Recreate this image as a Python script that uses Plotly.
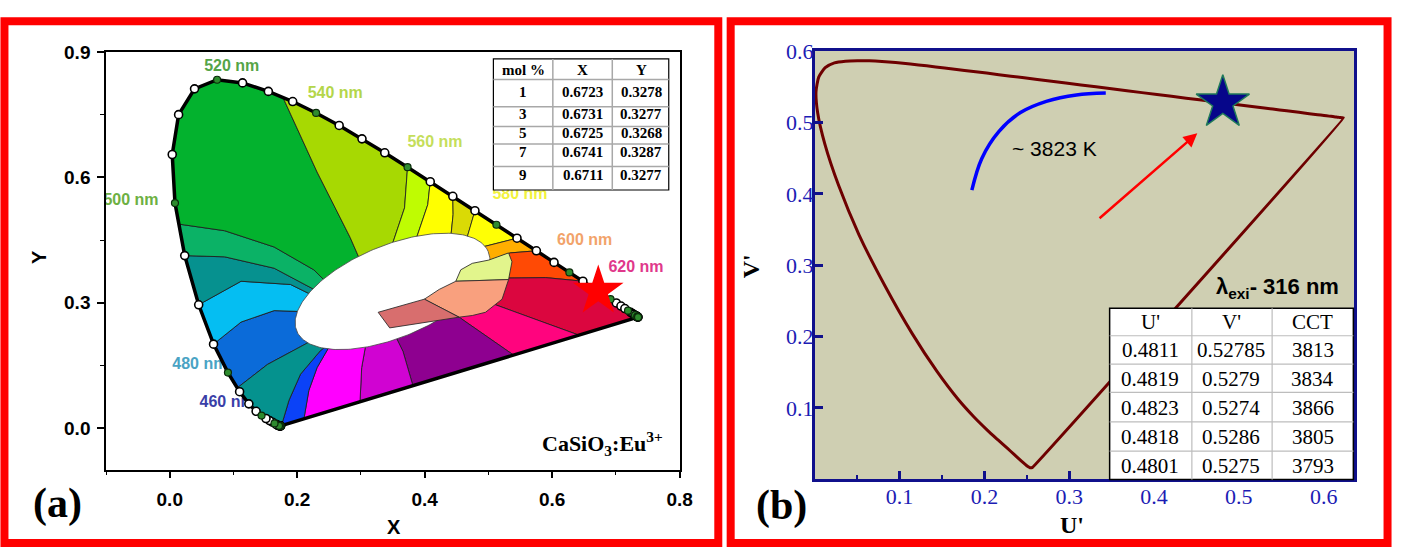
import numpy as np
import plotly.graph_objects as go

W, H = 1405, 547

# ---------------- data ----------------
wavelengths = list(range(380, 705, 5))
locus_x = [0.1741, 0.1740, 0.1738, 0.1736, 0.1733, 0.1730, 0.1726, 0.1721, 0.1714, 0.1703,
           0.1689, 0.1669, 0.1644, 0.1611, 0.1566, 0.1510, 0.1440, 0.1355, 0.1241, 0.1096,
           0.0913, 0.0687, 0.0454, 0.0235, 0.0082, 0.0039, 0.0139, 0.0389, 0.0743, 0.1142,
           0.1547, 0.1929, 0.2296, 0.2658, 0.3016, 0.3373, 0.3731, 0.4087, 0.4441, 0.4788,
           0.5125, 0.5448, 0.5752, 0.6029, 0.6270, 0.6482, 0.6658, 0.6801, 0.6915, 0.7006,
           0.7079, 0.7140, 0.7190, 0.7230, 0.7260, 0.7283, 0.7300, 0.7311, 0.7320, 0.7327,
           0.7334, 0.7340, 0.7344, 0.7346, 0.7347]
locus_y = [0.0050, 0.0050, 0.0049, 0.0049, 0.0048, 0.0048, 0.0048, 0.0048, 0.0051, 0.0058,
           0.0069, 0.0086, 0.0109, 0.0138, 0.0177, 0.0227, 0.0297, 0.0399, 0.0578, 0.0868,
           0.1327, 0.2007, 0.2950, 0.4127, 0.5384, 0.6548, 0.7502, 0.8120, 0.8338, 0.8262,
           0.8059, 0.7816, 0.7543, 0.7243, 0.6923, 0.6589, 0.6245, 0.5896, 0.5547, 0.5202,
           0.4866, 0.4544, 0.4242, 0.3965, 0.3725, 0.3514, 0.3340, 0.3197, 0.3083, 0.2993,
           0.2920, 0.2859, 0.2809, 0.2770, 0.2740, 0.2717, 0.2700, 0.2689, 0.2680, 0.2673,
           0.2666, 0.2660, 0.2656, 0.2654, 0.2653]

label_wavelengths = [460, 480, 500, 520, 540, 560, 580, 600, 620]
label_colors = ["#3A3FA8", "#4AA3C4", "#6DB043", "#55A447", "#B4D64A",
                "#C5DE5B", "#F2F23C", "#F2A36A", "#E0388B"]

mol_percent = [1, 3, 5, 7, 9]
cie_x = [0.6723, 0.6731, 0.6725, 0.6741, 0.6711]
cie_y = [0.3278, 0.3277, 0.3268, 0.3287, 0.3277]

u_prime = [0.4811, 0.4819, 0.4823, 0.4818, 0.4801]
v_prime = [0.52785, 0.5279, 0.5274, 0.5286, 0.5275]
cct_values = [3813, 3834, 3866, 3805, 3793]
cct_mean = 3823

planck_u = [0.1852, 0.1968, 0.2172, 0.2425, 0.2730, 0.3085, 0.3431]
planck_v = [0.4053, 0.4494, 0.4876, 0.5140, 0.5297, 0.5388, 0.5413]

# colour-region boundaries of the chromaticity chart: (edge kind, wavelength / purple-line x, inner path)
region_boundaries = [
    ("wl", 476, [(0.1534, 0.1522), (0.2105, 0.1990)]),
    ("wl", 485, [(0.1119, 0.2536), (0.1638, 0.2810), (0.2105, 0.2787)]),
    ("wl", 490, [(0.1119, 0.3513), (0.1896, 0.3435), (0.2260, 0.3162)]),
    ("wl", 495, [(0.0861, 0.4098), (0.1638, 0.3825), (0.2311, 0.3279)]),
    ("wl", 498, [(0.0861, 0.4723), (0.1638, 0.4333), (0.2260, 0.3787), (0.2518, 0.3396)]),
    ("wl", 533, [(0.2311, 0.6129), (0.2829, 0.4567), (0.3020, 0.3900)]),
    ("wl", 560, [(0.3684, 0.5270), (0.3477, 0.4330)]),
    ("wl", 565, [(0.4048, 0.5347), (0.3866, 0.4527)]),
    ("wl", 570, [(0.4446, 0.5113), (0.4410, 0.4580)]),
    ("wl", 575, [(0.4721, 0.4840), (0.4654, 0.4504)]),
    ("wl", 585, [(0.4903, 0.4333)]),
    ("wl", 590, [(0.5343, 0.4192)]),
    ("wl", 605, [(0.5900, 0.3600), (0.5317, 0.3590)]),
    ("px", 0.6420, [(0.5700, 0.2620), (0.5009, 0.3007)]),
    ("px", 0.5394, [(0.4539, 0.2653)]),
    ("px", 0.3815, [(0.3659, 0.1834), (0.3477, 0.2396)]),
    ("px", 0.2985, [(0.3011, 0.1445), (0.3089, 0.2108)]),
    ("px", 0.2105, [(0.2182, 0.0897), (0.2311, 0.1444), (0.2518, 0.1990)]),
    ("px", 0.1752, [(0.1871, 0.0663), (0.2052, 0.1288), (0.2363, 0.1850)]),
]
region_colors = ["#0B6BD9", "#05BEF2", "#06918F", "#0BB266", "#03B22E", "#A7D902",
                 "#BFFC02", "#FFFF00", "#DADA05", "#FFFF05", "#FFAE00", "#FF4A05",
                 "#DB063F", "#FF047E", "#8E0090", "#D003D2", "#FF00FF", "#0B42F7", "#05928E"]
region_center = (0.345, 0.315)

white_center = (0.3495, 0.3270)
white_axis_a = (0.1500, 0.0960)
white_axis_b = (0.0290, -0.1010)

pale_green_x = [0.4566, 0.4747, 0.5005, 0.5316, 0.5369, 0.5316, 0.4488]
pale_green_y = [0.3787, 0.3942, 0.4020, 0.4192, 0.3981, 0.3553, 0.3513]
salmon_x = [0.4488, 0.5316, 0.5214, 0.4954, 0.4747, 0.4539, 0.3995, 0.4228]
salmon_y = [0.3513, 0.3553, 0.3084, 0.2770, 0.2693, 0.2653, 0.3084, 0.3318]
dusky_x = [0.3270, 0.3995, 0.4539, 0.3451]
dusky_y = [0.2770, 0.3084, 0.2653, 0.2396]

# ---------------- helpers ----------------
lx = np.array(locus_x); ly = np.array(locus_y); wl = np.array(wavelengths, float)
LOOP = 620.0


def loop_pt(s):
    s = s % LOOP
    if s <= 320:
        w = 380 + s
        return (float(np.interp(w, wl, lx)), float(np.interp(w, wl, ly)))
    x = lx[-1] + (s - 320) / 300 * (lx[0] - lx[-1])
    y = ly[-1] + (s - 320) / 300 * (ly[0] - ly[-1])
    return (float(x), float(y))


def outer_s(kind, val):
    if kind == "wl":
        return val - 380.0
    return 320 + 300 * (lx[-1] - val) / (lx[-1] - lx[0])


def PXp(px):
    return px / W


def PYp(py):
    return 1 - py / H


fig = go.Figure()

# wavelength labels (drawn first so the chart covers parts of them)
label_offsets = {460: (-0.054, 0.031), 480: (-0.044, 0.017), 500: (-0.069, 0.005),
                 520: (0.023, 0.031), 540: (0.030, 0.045), 560: (0.043, 0.058),
                 580: (0.037, 0.072), 600: (0.024, 0.075), 620: (0.040, 0.074)}
for w, c in zip(label_wavelengths, label_colors):
    px_, py_ = loop_pt(w - 380)
    dx, dy = label_offsets[w]
    fig.add_trace(go.Scatter(x=[px_ + dx], y=[py_ + dy], mode="text", text=[f"<b>{w} nm</b>"],
                             textfont=dict(family="Liberation Sans", size=16, color=c),
                             hoverinfo="skip", showlegend=False, xaxis="x", yaxis="y"))

# colour regions
bnds = []
for kind, val, inner in region_boundaries:
    s = outer_s(kind, val)
    bnds.append((s, [loop_pt(s)] + list(inner)))
for i in range(len(bnds)):
    sa, pa = bnds[i]
    sb, pb = bnds[(i + 1) % len(bnds)]
    if sb <= sa:
        sb += LOOP
    ss = list(np.arange(sa, sb, 0.5)) + [sb]
    arc = [loop_pt(s) for s in ss]
    poly = arc + pb[1:] + [region_center] + pa[::-1][:-1] + [arc[0]]
    fig.add_trace(go.Scatter(x=[p[0] for p in poly], y=[p[1] for p in poly], mode="lines",
                             fill="toself", fillcolor=region_colors[i],
                             line=dict(color="rgba(30,30,30,0.85)", width=1),
                             hoverinfo="skip", showlegend=False, xaxis="x", yaxis="y"))

# white central region
phi = np.linspace(0, 2 * np.pi, 240)
ex = white_center[0] + np.cos(phi) * white_axis_a[0] + np.sin(phi) * white_axis_b[0]
ey = white_center[1] + np.cos(phi) * white_axis_a[1] + np.sin(phi) * white_axis_b[1]
fig.add_trace(go.Scatter(x=ex, y=ey, mode="lines", fill="toself", fillcolor="white",
                         line=dict(color="rgba(70,70,70,0.8)", width=1),
                         hoverinfo="skip", showlegend=False, xaxis="x", yaxis="y"))
for xs, ys, col in [(pale_green_x, pale_green_y, "#E2F58C"), (salmon_x, salmon_y, "#F9A07E"),
                    (dusky_x, dusky_y, "#D86E6E")]:
    fig.add_trace(go.Scatter(x=xs + [xs[0]], y=ys + [ys[0]], mode="lines", fill="toself",
                             fillcolor=col, line=dict(color="rgba(40,40,40,0.85)", width=1),
                             hoverinfo="skip", showlegend=False, xaxis="x", yaxis="y"))

# spectral locus + purple line
fig.add_trace(go.Scatter(x=locus_x + [locus_x[0]], y=locus_y + [locus_y[0]], mode="lines",
                         line=dict(color="black", width=3.5), hoverinfo="skip",
                         showlegend=False, xaxis="x", yaxis="y"))
white_idx = [i for i, w in enumerate(wavelengths) if w % 20 != 0]
green_idx = [i for i, w in enumerate(wavelengths) if w % 20 == 0]
fig.add_trace(go.Scatter(x=[locus_x[i] for i in white_idx], y=[locus_y[i] for i in white_idx],
                         mode="markers", marker=dict(size=8, color="white",
                                                     line=dict(color="black", width=1.6)),
                         hoverinfo="skip", showlegend=False, xaxis="x", yaxis="y"))
fig.add_trace(go.Scatter(x=[locus_x[i] for i in green_idx], y=[locus_y[i] for i in green_idx],
                         mode="markers", marker=dict(size=7, color="#2E8B2E",
                                                     line=dict(color="#0A2A0A", width=1.2)),
                         hoverinfo="skip", showlegend=False, xaxis="x", yaxis="y"))
# sample point
fig.add_trace(go.Scatter(x=[cie_x[0]], y=[cie_y[0]], mode="markers",
                         marker=dict(symbol="star", size=38, color="#FF0000", line=dict(width=0)),
                         hoverinfo="skip", showlegend=False, xaxis="x", yaxis="y"))

# ---------------- panel (b) ----------------
xa = np.array(locus_x); ya = np.array(locus_y)
den = -2 * xa + 12 * ya + 3
uu = list(4 * xa / den); vv = list(9 * ya / den)
fig.add_trace(go.Scatter(x=uu + [uu[0]], y=vv + [vv[0]], mode="lines",
                         line=dict(color="#6E0000", width=3, shape="spline", smoothing=0.6),
                         hoverinfo="skip", showlegend=False, xaxis="x2", yaxis="y2"))
fig.add_trace(go.Scatter(x=planck_u, y=planck_v, mode="lines",
                         line=dict(color="#0000FF", width=3.5, shape="spline"),
                         hoverinfo="skip", showlegend=False, xaxis="x2", yaxis="y2"))
fig.add_trace(go.Scatter(x=[u_prime[0]], y=[v_prime[0]], mode="markers",
                         marker=dict(symbol="star", size=40, color="#06068A",
                                     line=dict(color="#1F7A5A", width=1.5)),
                         hoverinfo="skip", showlegend=False, xaxis="x2", yaxis="y2"))

shapes = []
annotations = []

# tan plot background of (b)
shapes.append(dict(type="rect", xref="x2 domain", yref="y2 domain", x0=0, x1=1, y0=0, y1=1,
                   fillcolor="#CFCFB2", line=dict(width=0), layer="below"))


def add_table(x_edges, y_edges, text_x, text_y, rows, font, outer_w, inner_col, inner_w):
    shapes.append(dict(type="rect", xref="paper", yref="paper", x0=PXp(x_edges[0]),
                       x1=PXp(x_edges[-1]), y0=PYp(y_edges[-1]), y1=PYp(y_edges[0]),
                       fillcolor="white", line=dict(color="black", width=outer_w), layer="above"))
    for xe in x_edges[1:-1]:
        shapes.append(dict(type="line", xref="paper", yref="paper", x0=PXp(xe), x1=PXp(xe),
                           y0=PYp(y_edges[-1]), y1=PYp(y_edges[0]),
                           line=dict(color=inner_col, width=inner_w), layer="above"))
    for ye in y_edges[1:-1]:
        shapes.append(dict(type="line", xref="paper", yref="paper", x0=PXp(x_edges[0]),
                           x1=PXp(x_edges[-1]), y0=PYp(ye), y1=PYp(ye),
                           line=dict(color=inner_col, width=inner_w), layer="above"))
    for r, row in enumerate(rows):
        for c, val in enumerate(row):
            annotations.append(dict(xref="paper", yref="paper", x=PXp(text_x[c]), y=PYp(text_y[r]),
                                    text=val, showarrow=False, xanchor="center", yanchor="middle",
                                    font=font))


rows_a = [["<b>mol %</b>", "<b>X</b>", "<b>Y</b>"]] + \
         [[f"<b>{m}</b>", f"<b>{x:.4f}</b>", f"<b>{y:.4f}</b>"] for m, x, y in zip(mol_percent, cie_x, cie_y)]
add_table([498, 558, 618, 675], [48, 69, 97, 117, 135, 158, 182],
          [528, 588, 647], [59, 82, 104, 124, 143, 167], rows_a,
          dict(family="Liberation Serif", size=15, color="black"), 1.2, "#A8A8A8", 1.5)

rows_b = [["U'", "V'", "CCT"]] + \
         [[str(u), str(v), str(c)] for u, v, c in zip(u_prime, v_prime, cct_values)]
add_table([1120, 1203, 1284, 1366], [303, 331, 360, 389, 419, 449, 478],
          [1161, 1243, 1325], [317, 346, 375, 404.5, 434.5, 464], rows_b,
          dict(family="Liberation Serif", size=21, color="black"), 1.5, "#BDBDBD", 1.2)

# red panel frames
shapes.append(dict(type="rect", xref="paper", yref="paper", x0=PXp(4.5), x1=PXp(725),
                   y0=PYp(543), y1=PYp(9.5), line=dict(color="#FF0000", width=8),
                   fillcolor="rgba(0,0,0,0)", layer="above"))
shapes.append(dict(type="rect", xref="paper", yref="paper", x0=PXp(737.5), x1=PXp(1400.5),
                   y0=PYp(543), y1=PYp(9.5), line=dict(color="#FF0000", width=8),
                   fillcolor="rgba(0,0,0,0)", layer="above"))

# texts panel (a)
annotations += [
    dict(xref="paper", yref="paper", x=PXp(608), y=PYp(441),
         text="<b>CaSiO<sub>3</sub>:Eu<sup>3+</sup></b>", showarrow=False,
         font=dict(family="Liberation Serif", size=22, color="black"), xanchor="center", yanchor="middle"),
    dict(xref="paper", yref="paper", x=PXp(58), y=PYp(503), text="<b>(a)</b>", showarrow=False,
         font=dict(family="Liberation Serif", size=42, color="black"), xanchor="center", yanchor="middle"),
    dict(xref="paper", yref="paper", x=PXp(398), y=PYp(527), text="<b>X</b>", showarrow=False,
         font=dict(family="Liberation Sans", size=20, color="black"), xanchor="center", yanchor="middle"),
    dict(xref="paper", yref="paper", x=PXp(40), y=PYp(251), text="<b>Y</b>", showarrow=False,
         textangle=-90, font=dict(family="Liberation Sans", size=20, color="black"),
         xanchor="center", yanchor="middle"),
    # panel (b)
    dict(xref="paper", yref="paper", x=PXp(789), y=PYp(505), text="<b>(b)</b>", showarrow=False,
         font=dict(family="Liberation Serif", size=42, color="black"), xanchor="center", yanchor="middle"),
    dict(xref="paper", yref="paper", x=PXp(1082), y=PYp(524), text="<b>U'</b>", showarrow=False,
         font=dict(family="Liberation Serif", size=24, color="black"), xanchor="center", yanchor="middle"),
    dict(xref="paper", yref="paper", x=PXp(758), y=PYp(260), text="<b>V'</b>", showarrow=False,
         textangle=-90, font=dict(family="Liberation Serif", size=24, color="black"),
         xanchor="center", yanchor="middle"),
    dict(xref="paper", yref="paper", x=PXp(1064), y=PYp(140), text=f"~ {cct_mean} K", showarrow=False,
         font=dict(family="Liberation Sans", size=21, color="black"), xanchor="center", yanchor="middle"),
    dict(xref="paper", yref="paper", x=PXp(1289), y=PYp(282),
         text="<b>λ<sub>exi</sub>- 316 nm</b>", showarrow=False,
         font=dict(family="Liberation Sans", size=22, color="black"), xanchor="center", yanchor="middle"),
    # arrow pointing toward the sample point
    dict(xref="x2", yref="y2", axref="x2", ayref="y2", x=0.451, y=0.485, ax=0.334, ay=0.364,
         text="", showarrow=True, arrowhead=2, arrowsize=1.1, arrowwidth=2.5, arrowcolor="#FF0000"),
]

navy = "#10108C"
fig.update_layout(
    width=W, height=H, autosize=False,
    margin=dict(l=0, r=0, t=0, b=0),
    paper_bgcolor="white", plot_bgcolor="white",
    showlegend=False,
    shapes=shapes, annotations=annotations,
    xaxis=dict(domain=[107 / W, 686 / W], range=[-0.1, 0.8], tickvals=[0, 0.2, 0.4, 0.6, 0.8],
               ticktext=["0.0", "0.2", "0.4", "0.6", "0.8"],
               ticks="outside", ticklen=7, tickwidth=1.5, tickcolor="black",
               minor=dict(tickvals=[-0.1, 0.1, 0.3, 0.5, 0.7], ticks="outside", ticklen=4,
                          tickwidth=1.2, tickcolor="black"),
               showline=True, mirror=True, linecolor="black", linewidth=1.5,
               showgrid=False, zeroline=False, ticklabelstandoff=5,
               tickfont=dict(family="Liberation Sans", size=19, color="black", weight="bold"),
               anchor="y"),
    yaxis=dict(domain=[1 - 468 / H, 1 - 41 / H], range=[-0.1, 0.9], tickvals=[0, 0.3, 0.6, 0.9],
               ticktext=["0.0", "0.3", "0.6", "0.9"],
               ticks="outside", ticklen=7, tickwidth=1.5, tickcolor="black",
               minor=dict(tickvals=[0.15, 0.45, 0.75], ticks="outside", ticklen=4,
                          tickwidth=1.2, tickcolor="black"),
               showline=True, mirror=True, linecolor="black", linewidth=1.5,
               showgrid=False, zeroline=False, ticklabelstandoff=3,
               tickfont=dict(family="Liberation Sans", size=19, color="black", weight="bold"),
               anchor="x"),
    xaxis2=dict(domain=[822.4 / W, 1367 / W], range=[0, 0.6362],
                tickvals=[0.1, 0.2, 0.3, 0.4, 0.5, 0.6],
                ticks="inside", ticklen=8, tickwidth=3, tickcolor=navy,
                minor=dict(tickvals=[0.05, 0.15, 0.25, 0.35, 0.45, 0.55], ticks="inside",
                           ticklen=4, tickwidth=2, tickcolor=navy),
                showline=True, mirror=True, linecolor=navy, linewidth=3,
                showgrid=False, zeroline=False, ticklabelstandoff=-5,
                tickfont=dict(family="Liberation Serif", size=22, color="#1C1CB4"),
                anchor="y2"),
    yaxis2=dict(domain=[1 - 477.6 / H, 1 - 40 / H], range=[0, 0.6002],
                tickvals=[0.1, 0.2, 0.3, 0.4, 0.5, 0.6],
                ticks="inside", ticklen=8, tickwidth=3, tickcolor=navy,
                showline=True, mirror=True, linecolor=navy, linewidth=3,
                showgrid=False, zeroline=False, ticklabelstandoff=-6,
                tickfont=dict(family="Liberation Serif", size=22, color="#1C1CB4"),
                anchor="x2"),
)

fig.write_html("out.html")
